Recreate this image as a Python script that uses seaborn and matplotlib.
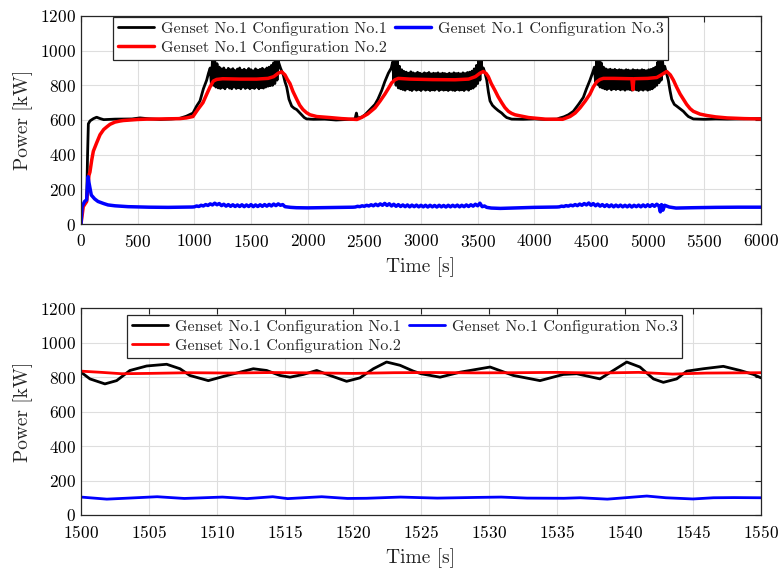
import numpy as np
import pandas as pd
import matplotlib
matplotlib.use("Agg")
import matplotlib.pyplot as plt
import seaborn as sns

LABELS = ["Genset No.1 Configuration No.1",
          "Genset No.1 Configuration No.2",
          "Genset No.1 Configuration No.3"]
COLORS = ["black", "red", "blue"]

# ---------------- full run, 0-6000 s ----------------
# Configuration No.1: slowly varying stretches as (time, power) pairs
c1_t_a = [0, 10, 30, 50, 58, 65, 80, 110, 138, 170, 200, 300, 450, 520, 600, 700,
          800, 874, 930, 988, 1020, 1050, 1080, 1109, 1125]
c1_p_a = [0, 100, 120, 130, 400, 578, 595, 608, 616, 608, 602, 605, 606, 612, 607, 603,
          606, 610, 622, 640, 680, 710, 780, 830, 870]
c1_t_b = [1760, 1785, 1800, 1815, 1835, 1859, 1880, 1903, 1925, 1947, 1970, 1991, 2050,
          2150, 2250, 2350, 2418, 2430, 2440, 2480, 2506, 2550, 2594, 2620, 2653, 2680,
          2712, 2738]
c1_p_b = [900, 860, 820, 790, 720, 680, 668, 660, 645, 630, 614, 606, 604,
          605, 600, 603, 606, 640, 610, 618, 630, 660, 690, 720, 770, 820,
          870, 900]
c1_t_c = [3565, 3580, 3595, 3609, 3630, 3653, 3680, 3712, 3735, 3756, 3800, 3900, 4000,
          4100, 4200, 4227, 4260, 4300, 4344, 4390, 4432, 4460, 4491, 4518]
c1_p_c = [870, 830, 760, 710, 685, 670, 655, 640, 625, 614, 605, 604, 606,
          603, 605, 612, 618, 630, 650, 690, 730, 780, 830, 880]
c1_t_d = [5170, 5182, 5197, 5212, 5235, 5256, 5285, 5315, 5340, 5359, 5403, 5500, 5600,
          5700, 5800, 5900, 6000]
c1_p_d = [860, 830, 770, 720, 690, 680, 665, 650, 632, 620, 606, 604, 606,
          605, 606, 607, 608]

# Configuration No.1 during the three load steps, logged every 10 s
C1_STEP = 10
c1_osc1_start = 1140
c1_osc1 = [900, 810, 945, 800, 940, 790, 925, 785, 905, 782,
           895, 788, 900, 780, 888, 792, 898, 784, 890, 780,
           896, 790, 885, 782, 894, 786, 900, 780, 888, 790,
           893, 782, 886, 788, 897, 780, 890, 786, 884, 782,
           895, 790, 888, 780, 892, 786, 898, 784, 890, 790,
           900, 795, 905, 798, 915, 800, 930, 810, 945, 830,
           940]
c1_osc2_start = 2750
c1_osc2 = [935, 830, 950, 800, 945, 785, 910, 780, 890, 776,
           880, 772, 876, 780, 870, 774, 878, 770, 872, 778,
           868, 772, 875, 776, 870, 770, 866, 778, 872, 772,
           868, 776, 874, 770, 866, 774, 870, 772, 868, 778,
           872, 770, 866, 776, 870, 772, 868, 774, 865, 770,
           870, 776, 866, 772, 872, 770, 868, 776, 870, 772,
           866, 774, 872, 770, 868, 778, 874, 772, 876, 780,
           882, 784, 895, 795, 915, 810, 940, 830, 950, 880,
           900]
c1_osc3_start = 4530
c1_osc3 = [905, 820, 950, 805, 945, 790, 930, 785, 905, 780,
           895, 776, 890, 782, 893, 774, 888, 780, 892, 776,
           886, 780, 890, 774, 888, 778, 885, 772, 890, 778,
           888, 776, 884, 772, 890, 778, 886, 774, 888, 770,
           885, 776, 890, 772, 887, 778, 884, 772, 890, 776,
           892, 780, 898, 790, 905, 800, 935, 815, 950, 830,
           950, 880, 910]

# Configuration No.2
c2_t = [0, 20, 50, 70, 79, 95, 109, 138, 168, 200, 227, 256, 300, 344, 374, 500, 580,
        700, 874, 930, 988, 1030, 1076, 1110, 1138, 1168, 1197, 1250, 1400, 1550, 1650,
        1700, 1740, 1771, 1800, 1820, 1844, 1870, 1903, 1930, 1959, 1990, 2021, 2080,
        2197, 2300, 2435, 2477, 2530, 2594, 2640, 2682, 2715, 2741, 2770, 2800, 2900,
        3100, 3300, 3420, 3480, 3520, 3550, 3575, 3594, 3620, 3653, 3680, 3712, 3740,
        3771, 3800, 3830, 3874, 3950, 4097, 4250, 4315, 4360, 4403, 4450, 4491, 4520,
        4550, 4580, 4609, 4700, 4860, 4870, 4878, 5000, 5080, 5120, 5168, 5200, 5227,
        5255, 5286, 5315, 5344, 5375, 5403, 5462, 5521, 5600, 5700, 5850, 6000]
c2_p = [0, 100, 130, 280, 300, 370, 420, 468, 515, 545, 560, 575, 588, 594, 597, 603, 605,
        606, 608, 612, 620, 660, 700, 750, 790, 825, 834, 838, 836, 836, 840,
        850, 870, 878, 860, 835, 810, 765, 720, 685, 660, 642, 630, 620,
        614, 608, 603, 615, 635, 670, 710, 750, 785, 814, 832, 840, 836,
        833, 832, 836, 850, 870, 880, 868, 850, 810, 770, 735, 700, 672,
        650, 638, 630, 624, 614, 605, 604, 620, 640, 670, 710, 750, 790,
        820, 834, 840, 840, 838, 775, 838, 840, 845, 860, 880, 860, 830,
        790, 750, 720, 690, 665, 650, 634, 626, 618, 612, 608, 606]

# Configuration No.3: quiet stretches, and load steps logged every 20 s
c3_t_a = [0, 5, 9, 32, 50, 62, 70, 91, 120, 150, 200, 238, 300, 415, 600, 768, 900, 980]
c3_p_a = [0, 60, 100, 130, 140, 273, 240, 167, 145, 130, 118, 110, 105, 100, 97, 96, 97, 98]
c3_t_b = [1850, 1900, 2000, 2200, 2400]
c3_p_b = [96, 94, 93, 95, 97]
c3_t_c = [3620, 3700, 3800, 3900, 4000, 4200]
c3_p_c = [92, 90, 92, 94, 96, 98]
c3_t_d = [5112, 5122, 5135, 5150, 5190, 5250, 5400, 5600, 5800, 6000]
c3_p_d = [70, 112, 80, 108, 98, 92, 94, 96, 97, 97]
C3_STEP = 20
c3_osc1_start = 1000
c3_osc1 = [99, 104, 101, 108, 104, 112, 107, 116, 110, 120,
           111, 118, 106, 114, 103, 112, 102, 111, 101, 110,
           101, 111, 100, 110, 101, 112, 100, 110, 101, 111,
           102, 112, 103, 113, 104, 115, 106, 116, 108, 112,
           100]
c3_osc2_start = 2420
c3_osc2 = [98, 102, 100, 105, 102, 108, 104, 111, 105, 114,
           106, 116, 108, 119, 107, 117, 104, 114, 102, 112,
           101, 110, 100, 110, 99, 109, 100, 109, 99, 108,
           99, 108, 98, 108, 99, 107, 98, 108, 99, 107,
           98, 108, 99, 108, 100, 109, 99, 108, 100, 110,
           101, 111, 103, 114, 105, 120, 100, 104, 96]
c3_osc3_start = 4220
c3_osc3 = [99, 103, 101, 106, 103, 109, 105, 112, 106, 115,
           108, 118, 110, 121, 108, 118, 105, 115, 103, 112,
           101, 111, 100, 110, 99, 109, 100, 109, 99, 108,
           99, 109, 98, 108, 100, 109, 99, 110, 100, 111,
           101, 112, 102, 114, 104]

# ---------------- zoom window, 1500-1550 s ----------------
z1_t = [1499.9, 1500.66, 1501.76, 1502.62, 1503.6, 1504.83, 1506.3, 1507.28, 1508.0,
        1509.36, 1510.46, 1511.69, 1512.67, 1513.65, 1514.63, 1515.37, 1516.35,
        1517.33, 1518.31, 1519.53, 1520.51, 1521.5, 1522.47, 1523.46, 1524.44,
        1525.0, 1526.4, 1527.87, 1530.08, 1531.79, 1533.75, 1535.47, 1536.45,
        1538.16, 1539.14, 1540.13, 1541.1, 1542.09, 1542.82, 1543.8, 1544.54,
        1545.76, 1547.23, 1548.46, 1549.44, 1550.0]
z1_p = [835, 790, 761, 780, 839, 865, 875, 849, 810,
        780, 804, 829, 849, 839, 810, 800, 816,
        839, 810, 776, 796, 849, 888, 869, 835,
        820, 800, 829, 859, 810, 780, 816, 820,
        790, 839, 888, 859, 790, 770, 790, 835,
        849, 863, 839, 816, 796]
z2_t = [1500, 1501.5, 1503, 1505, 1508, 1511, 1514, 1517, 1520, 1523, 1526, 1529,
        1532, 1535, 1538, 1541, 1543.5, 1546, 1548, 1550]
z2_p = [835, 828, 820, 822, 826, 824, 827, 825, 822, 826, 827, 825,
        826, 828, 824, 828, 818, 824, 825, 826]
z3_t = [1500, 1501.9, 1503.5, 1505.6, 1507.6, 1510.4, 1512.2, 1514.1, 1515.2, 1517.7,
        1519.6, 1521, 1523.5, 1526.2, 1529.1, 1530.9, 1532.8, 1535.5, 1536.7, 1538.7,
        1541.6, 1543, 1545, 1546.5, 1548, 1550]
z3_p = [104, 92, 98, 106, 96, 104, 95, 106, 95, 106,
        96, 97, 104, 98, 102, 104, 98, 97, 100, 92,
        110, 100, 93, 100, 101, 100]


def stretch(start, step, values):
    return list(start + step * np.arange(len(values)))


top_c1 = pd.DataFrame({
    "t": c1_t_a + stretch(c1_osc1_start, C1_STEP, c1_osc1) + c1_t_b
         + stretch(c1_osc2_start, C1_STEP, c1_osc2) + c1_t_c
         + stretch(c1_osc3_start, C1_STEP, c1_osc3) + c1_t_d,
    "p": c1_p_a + c1_osc1 + c1_p_b + c1_osc2 + c1_p_c + c1_osc3 + c1_p_d,
})
top_c2 = pd.DataFrame({"t": c2_t, "p": c2_p})
top_c3 = pd.DataFrame({
    "t": c3_t_a + stretch(c3_osc1_start, C3_STEP, c3_osc1) + c3_t_b
         + stretch(c3_osc2_start, C3_STEP, c3_osc2) + c3_t_c
         + stretch(c3_osc3_start, C3_STEP, c3_osc3) + c3_t_d,
    "p": c3_p_a + c3_osc1 + c3_p_b + c3_osc2 + c3_p_c + c3_osc3 + c3_p_d,
})
bot = [pd.DataFrame({"t": z1_t, "p": z1_p}),
       pd.DataFrame({"t": z2_t, "p": z2_p}),
       pd.DataFrame({"t": z3_t, "p": z3_p})]

sns.set_theme(style="whitegrid")
plt.rcParams.update({
    "font.family": "serif",
    "font.serif": ["cmr10"],
    "mathtext.fontset": "cm",
    "axes.formatter.use_mathtext": True,
    "axes.unicode_minus": False,
})

fig = plt.figure(figsize=(7.81, 5.71), dpi=100)
ax_top = fig.add_axes([0.1037, 0.6077, 0.8707, 0.3643])
ax_bot = fig.add_axes([0.1037, 0.0981, 0.8707, 0.3620])


def style(ax, xlim, xticks):
    ax.set_xlim(*xlim)
    ax.set_ylim(0, 1200)
    ax.set_xticks(xticks)
    ax.set_yticks(np.arange(0, 1201, 200))
    ax.set_facecolor("white")
    ax.grid(True, color="#dedede", linewidth=0.8)
    for s in ax.spines.values():
        s.set_visible(True)
        s.set_color("#262626")
        s.set_linewidth(0.9)
    ax.tick_params(direction="in", top=True, right=True, length=4, width=0.8,
                   colors="#262626", labelsize=12.5, labelcolor="black", pad=3.5)
    ax.tick_params(axis="x", pad=6.5)
    ax.set_xlabel("Time [s]", fontsize=14, labelpad=5)
    ax.set_ylabel("Power [kW]", fontsize=14, labelpad=5.5)


widths_top = [2.0, 2.5, 2.5]
for df, lab, col, lw in zip([top_c1, top_c2, top_c3], LABELS, COLORS, widths_top):
    sns.lineplot(data=df, x="t", y="p", ax=ax_top, color=col, label=lab, lw=lw,
                 estimator=None, sort=False)
for df, lab, col in zip(bot, LABELS, COLORS):
    sns.lineplot(data=df, x="t", y="p", ax=ax_bot, color=col, label=lab, lw=2.0,
                 estimator=None, sort=False)

style(ax_top, (0, 6000), np.arange(0, 6001, 500))
style(ax_bot, (1500, 1550), np.arange(1500, 1551, 5))

for ax, anchor in [(ax_top, (0.047, 0.995)), (ax_bot, (0.0676, 0.968))]:
    leg = ax.legend(loc="upper left", bbox_to_anchor=anchor, ncol=2, fontsize=11.5,
                    frameon=True, fancybox=False, framealpha=1, edgecolor="#262626",
                    borderpad=0.3, labelspacing=0.3, handlelength=2.3,
                    handletextpad=0.4, columnspacing=0.5, borderaxespad=0)
    leg.get_frame().set_linewidth(0.9)

fig.savefig("out.png", dpi=100)
